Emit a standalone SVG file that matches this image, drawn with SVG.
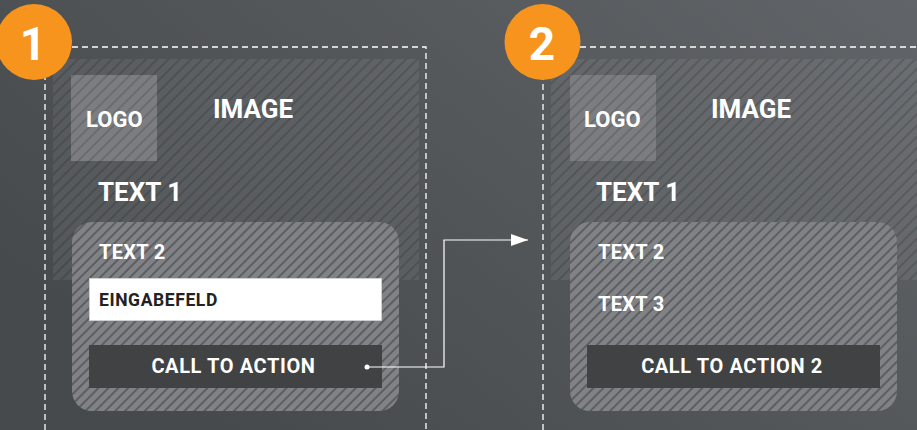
<svg xmlns="http://www.w3.org/2000/svg" width="917" height="430" viewBox="0 0 917 430">
<defs>
<linearGradient id="bg" x1="0" y1="0.6" x2="1" y2="0">
<stop offset="0" stop-color="#464a4c"/>
<stop offset="1" stop-color="#616468"/>
</linearGradient>
<pattern id="hImg" width="8" height="8" patternUnits="userSpaceOnUse" patternTransform="rotate(45)">
<rect width="8" height="8" fill="#ffffff" fill-opacity="0.07"/>
<rect width="2" height="8" fill="#000000" fill-opacity="0.14"/>
</pattern>
<pattern id="hLogo" width="8" height="8" patternUnits="userSpaceOnUse" patternTransform="rotate(45)">
<rect width="8" height="8" fill="#7b7d80"/>
<rect width="2" height="8" fill="#6a6c6f"/>
</pattern>
<pattern id="hBox" width="7" height="7" patternUnits="userSpaceOnUse" patternTransform="rotate(45)">
<rect width="7" height="7" fill="#808285"/>
<rect width="2" height="7" fill="#5c5e61"/>
</pattern>
<marker id="arr" markerWidth="17" markerHeight="12" refX="17" refY="6" orient="auto" markerUnits="userSpaceOnUse">
<path d="M0,0 L17,6 L0,12 Z" fill="#ffffff"/>
</marker>
<style>
.t{font-family:Roboto,"Liberation Sans",sans-serif;font-weight:700;fill:#ffffff}
.dash{fill:none;stroke:#ffffff;stroke-width:1.3;stroke-dasharray:6 4}
.badge{fill:#f7941d}
.cta{fill:#404243}
.big{font-size:26px}
.logo{font-size:22px}
.small{font-size:20px;letter-spacing:0.3px}
.btn{font-size:20px;letter-spacing:0.6px}
</style>
</defs>
<rect width="917" height="430" fill="url(#bg)"/>

<g id="frame1">
<path class="dash" d="M45,430 V47 H426 V430"/>
<rect x="53" y="59" width="366" height="221" fill="url(#hImg)"/>
<text class="t big" x="213" y="118">IMAGE</text>
<text class="t big" x="98" y="201">TEXT 1</text>
</g>
<g id="logo1">
<rect x="71" y="75" width="86" height="86" fill="url(#hLogo)"/>
<text class="t logo" x="86" y="127">LOGO</text>
</g>
<g id="form1">
<rect x="72" y="222" width="327" height="189" rx="20" fill="url(#hBox)"/>
<text class="t small" x="99" y="259">TEXT 2</text>
</g>
<g id="input1">
<rect x="89.5" y="278.5" width="292" height="42" fill="#ffffff" stroke="#d0d0d0"/>
<text class="t" x="99" y="306" font-size="17.5" letter-spacing="0.6" style="fill:#222222">EINGABEFELD</text>
</g>
<g id="cta1">
<rect class="cta" x="89" y="345" width="293" height="43"/>
<text class="t btn" x="233.5" y="373" text-anchor="middle">CALL TO ACTION</text>
</g>
<g id="badge1">
<circle class="badge" cx="34" cy="42" r="38"/>
<text class="t" x="33" y="60" font-size="46" text-anchor="middle">1</text>
</g>

<g id="frame2">
<path class="dash" d="M543,430 V47 H917"/>
<rect x="551" y="59" width="366" height="221" fill="url(#hImg)"/>
<text class="t big" x="711" y="118">IMAGE</text>
<text class="t big" x="596" y="201">TEXT 1</text>
</g>
<g id="logo2">
<rect x="570" y="75" width="86" height="86" fill="url(#hLogo)"/>
<text class="t logo" x="584" y="127">LOGO</text>
</g>
<g id="form2">
<rect x="570" y="222" width="327" height="189" rx="20" fill="url(#hBox)"/>
<text class="t small" x="598" y="259">TEXT 2</text>
<text class="t small" x="598" y="311">TEXT 3</text>
</g>
<g id="cta2">
<rect class="cta" x="587" y="345" width="293" height="43"/>
<text class="t btn" x="732" y="373" text-anchor="middle">CALL TO ACTION 2</text>
</g>
<g id="badge2">
<circle class="badge" cx="542.5" cy="42" r="38"/>
<text class="t" x="542" y="60" font-size="46" text-anchor="middle">2</text>
</g>

<g id="connectors">
<circle cx="367" cy="367" r="2.5" fill="#ffffff"/>
<path d="M367,367 H444 V240 H528" fill="none" stroke="#ffffff" stroke-width="1.2" marker-end="url(#arr)"/>
</g>
</svg>
